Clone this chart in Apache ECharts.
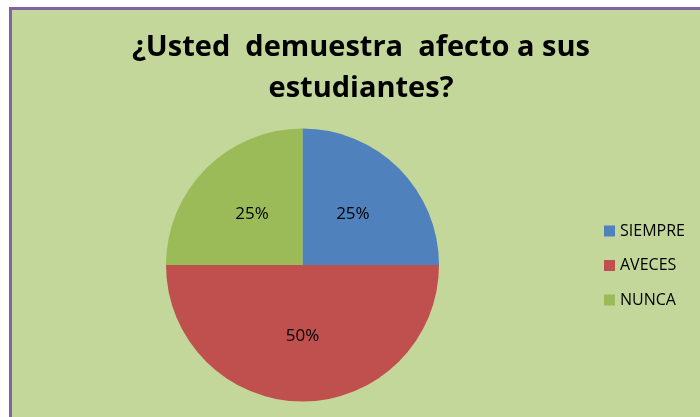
<!DOCTYPE html>
<html><head><meta charset="utf-8">
<script src="https://cdn.jsdelivr.net/npm/echarts@6/dist/echarts.min.js"></script>
<style>
html,body{margin:0;padding:0;background:#fff;width:700px;height:417px;overflow:hidden}
#c{position:absolute;left:9px;top:7px;width:691px;height:410px;border-top:3px solid #8064a2;border-left:3px solid #8064a2;background:#c4d79b}
</style></head><body>
<div id="c"></div>
<script>
const categories = ['SIEMPRE','AVECES','NUNCA'];
const values = [25, 50, 25];
const colors = ['#4f81bd','#c0504d','#9bbb59'];
const titleText = '¿Usted  demuestra  afecto a sus\nestudiantes?';

const chart = echarts.init(document.getElementById('c'), null, {renderer:'canvas'});
chart.setOption({
  animation:false,
  title:{text:titleText,left:349,top:17,textAlign:'center',padding:0,
    textStyle:{fontFamily:'Open Sans',fontWeight:'bold',fontSize:29,lineHeight:41,color:'#000'}},
  legend:{orient:'vertical',left:592,top:212,padding:0,itemWidth:11,itemHeight:11,itemGap:16.5,
    icon:'rect',textStyle:{fontFamily:'Open Sans',fontSize:16,color:'#000',lineHeight:18},
    data:categories},
  series:[{type:'pie',center:[290.5,255],radius:136.5,startAngle:90,clockwise:true,
    data:categories.map((n,i)=>({name:n,value:values[i],itemStyle:{color:colors[i]}})),
    label:{position:'inside',formatter:'{d}%',fontFamily:'Open Sans',fontSize:17,color:'#000'},
    labelLine:{show:false},emphasis:{disabled:true}}]
});
</script></body></html>
